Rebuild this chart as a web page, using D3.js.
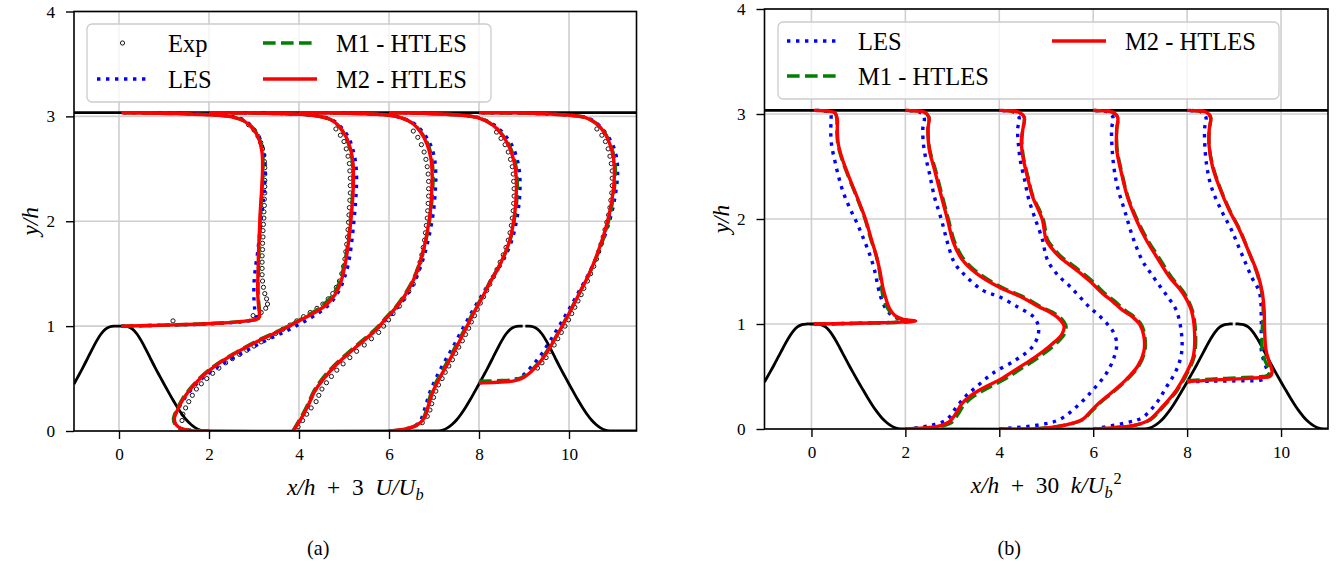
<!DOCTYPE html>
<html><head><meta charset="utf-8">
<script src="https://cdn.jsdelivr.net/npm/d3@7"></script>
<style>
body{margin:0;background:#fff;}
svg{display:block;}
</style></head>
<body>
<svg id="chart" width="1337" height="564"></svg>
<script>
// ---------- data ----------
const xTicks = [0, 2, 4, 6, 8, 10];
const yTicks = [0, 1, 2, 3, 4];
const stations = [0.05, 2, 4, 6, 8];
const topWall = 3.035;

// hill geometry (x/h, y/h); null = small gap at second crest
const hillX = [-1,-0.9,-0.8,-0.7,-0.6,-0.5,-0.4,-0.3,-0.2,-0.1,0,0.1,0.2,0.3,0.4,0.5,0.6,0.7,0.8,0.9,1.0,1.1,1.2,1.3,1.4,1.5,1.6,1.7,1.8,1.9,1.93,7.07,7.1,7.2,7.3,7.4,7.5,7.6,7.7,7.8,7.9,8.0,8.1,8.2,8.3,8.4,8.5,8.6,8.7,8.8,8.9,8.97,null,9.03,9.1,9.2,9.3,9.4,9.5,9.6,9.7,9.8,9.9,10.0,10.1,10.2,10.3,10.4,10.5,10.6,10.7,10.8,10.9,10.93,11.5];
const hillY = [0.448,0.527,0.607,0.691,0.776,0.857,0.925,0.972,0.994,1.0,1.0,1.0,0.994,0.972,0.925,0.857,0.776,0.691,0.607,0.527,0.448,0.371,0.295,0.224,0.160,0.105,0.062,0.030,0.0096,0.0005,0,0,0.0005,0.0096,0.030,0.062,0.105,0.160,0.224,0.295,0.371,0.448,0.527,0.607,0.691,0.776,0.857,0.925,0.972,0.994,1.0,1.0,null,1.0,1.0,0.994,0.972,0.925,0.857,0.776,0.691,0.607,0.527,0.448,0.371,0.295,0.224,0.160,0.105,0.062,0.030,0.0096,0.0005,0,0];

// Panel (a): x/h + 3 U/Ub  vs y/h   (one array per station)
const aM2 = [
 [[0.05,1.0],[0.7,1.006],[1.5,1.015],[2.3,1.03],[2.8,1.048],[3.05,1.065],[3.12,1.085],[3.12,1.12],[3.1,1.2],[3.08,1.35],[3.09,1.5],[3.1,1.7],[3.12,1.9],[3.14,2.1],[3.17,2.3],[3.19,2.5],[3.18,2.65],[3.12,2.77],[3.0,2.87],[2.8,2.95],[2.5,2.995],[2.0,3.015],[1.2,3.028],[0.05,3.035]],
 [[2.0,0.0],[1.6,0.004],[1.4,0.02],[1.27,0.06],[1.23,0.12],[1.3,0.2],[1.45,0.32],[1.65,0.43],[1.85,0.52],[2.2,0.64],[2.7,0.77],[3.15,0.87],[3.6,0.96],[4.0,1.05],[4.35,1.13],[4.6,1.2],[4.8,1.3],[4.93,1.42],[5.03,1.6],[5.1,1.8],[5.15,2.0],[5.19,2.2],[5.21,2.4],[5.2,2.55],[5.15,2.68],[5.05,2.8],[4.9,2.9],[4.7,2.97],[4.3,3.01],[3.5,3.027],[2.0,3.035]],
 [[3.87,0.0],[3.93,0.04],[4.05,0.12],[4.2,0.24],[4.35,0.38],[4.55,0.5],[4.8,0.62],[5.1,0.74],[5.4,0.85],[5.7,0.96],[5.95,1.08],[6.2,1.2],[6.45,1.36],[6.62,1.52],[6.75,1.7],[6.85,1.9],[6.92,2.1],[6.95,2.3],[6.96,2.45],[6.93,2.6],[6.85,2.73],[6.72,2.84],[6.5,2.94],[6.15,3.0],[5.5,3.025],[4.0,3.035]],
 [[6.0,0.0],[6.3,0.015],[6.6,0.05],[6.78,0.12],[6.88,0.25],[6.98,0.38],[7.12,0.5],[7.3,0.64],[7.5,0.8],[7.7,0.97],[7.9,1.14],[8.08,1.28],[8.25,1.42],[8.48,1.6],[8.67,1.8],[8.77,2.0],[8.82,2.2],[8.83,2.4],[8.79,2.55],[8.68,2.7],[8.52,2.82],[8.3,2.92],[7.95,2.99],[7.2,3.022],[6.0,3.035]],
 [[8.0,0.46],[8.4,0.465],[8.75,0.475],[8.95,0.5],[9.12,0.55],[9.3,0.63],[9.48,0.73],[9.65,0.85],[9.85,1.0],[10.05,1.16],[10.25,1.33],[10.45,1.5],[10.62,1.68],[10.78,1.88],[10.9,2.08],[10.98,2.28],[11.01,2.45],[10.99,2.6],[10.92,2.72],[10.78,2.85],[10.58,2.94],[10.35,2.99],[9.6,3.022],[8.0,3.035]]
];
const aM1 = [
 [[0.05,1.0],[0.7,1.006],[1.5,1.016],[2.3,1.031],[2.8,1.049],[3.06,1.066],[3.13,1.087],[3.13,1.12],[3.11,1.2],[3.09,1.35],[3.1,1.5],[3.11,1.7],[3.13,1.9],[3.15,2.1],[3.18,2.3],[3.2,2.5],[3.19,2.65],[3.13,2.77],[3.01,2.87],[2.81,2.95],[2.5,2.995],[2.0,3.015],[1.2,3.028],[0.05,3.035]],
 [[2.0,0.0],[1.6,0.005],[1.38,0.02],[1.25,0.06],[1.21,0.12],[1.28,0.2],[1.43,0.32],[1.63,0.43],[1.83,0.52],[2.18,0.64],[2.68,0.77],[3.12,0.87],[3.57,0.96],[3.97,1.05],[4.3,1.13],[4.56,1.21],[4.77,1.31],[4.91,1.43],[5.01,1.6],[5.09,1.8],[5.14,2.0],[5.18,2.2],[5.2,2.4],[5.19,2.55],[5.14,2.68],[5.04,2.8],[4.9,2.9],[4.7,2.97],[4.3,3.01],[3.5,3.027],[2.0,3.035]],
 [[3.87,0.0],[3.92,0.04],[4.03,0.12],[4.18,0.24],[4.33,0.38],[4.52,0.5],[4.77,0.62],[5.07,0.74],[5.37,0.85],[5.67,0.96],[5.93,1.08],[6.18,1.2],[6.43,1.36],[6.61,1.52],[6.75,1.7],[6.86,1.9],[6.93,2.1],[6.97,2.3],[6.98,2.45],[6.95,2.6],[6.87,2.73],[6.73,2.84],[6.5,2.94],[6.15,3.0],[5.5,3.025],[4.0,3.035]],
 [[6.0,0.0],[6.3,0.015],[6.58,0.05],[6.76,0.12],[6.86,0.25],[6.95,0.38],[7.09,0.5],[7.27,0.64],[7.47,0.8],[7.68,0.97],[7.88,1.14],[8.07,1.28],[8.24,1.42],[8.48,1.6],[8.68,1.8],[8.78,2.0],[8.84,2.2],[8.85,2.4],[8.81,2.55],[8.7,2.7],[8.53,2.82],[8.3,2.92],[7.95,2.99],[7.2,3.022],[6.0,3.035]],
 [[8.0,0.475],[8.4,0.48],[8.75,0.488],[8.95,0.51],[9.1,0.555],[9.28,0.63],[9.46,0.73],[9.64,0.85],[9.84,1.0],[10.04,1.16],[10.25,1.33],[10.45,1.5],[10.63,1.68],[10.8,1.88],[10.92,2.08],[11.0,2.28],[11.03,2.45],[11.01,2.6],[10.93,2.72],[10.79,2.85],[10.58,2.94],[10.35,2.99],[9.6,3.022],[8.0,3.035]]
];
const aLES = [
 [[0.05,1.0],[0.7,1.006],[1.5,1.014],[2.3,1.028],[2.8,1.045],[3.0,1.065],[3.05,1.09],[3.02,1.15],[3.0,1.25],[3.0,1.4],[3.03,1.55],[3.08,1.7],[3.13,1.9],[3.18,2.1],[3.23,2.3],[3.25,2.5],[3.22,2.65],[3.14,2.78],[3.0,2.88],[2.8,2.96],[2.5,3.0],[2.0,3.018],[1.2,3.03],[0.05,3.035]],
 [[2.0,0.0],[1.6,0.005],[1.38,0.02],[1.26,0.06],[1.22,0.12],[1.3,0.2],[1.47,0.32],[1.7,0.44],[1.93,0.53],[2.3,0.64],[2.8,0.76],[3.25,0.86],[3.7,0.95],[4.1,1.04],[4.45,1.13],[4.7,1.22],[4.88,1.33],[5.0,1.45],[5.1,1.6],[5.17,1.8],[5.22,2.0],[5.26,2.2],[5.28,2.4],[5.26,2.55],[5.2,2.68],[5.1,2.8],[4.93,2.9],[4.72,2.97],[4.3,3.01],[3.5,3.027],[2.0,3.035]],
 [[3.87,0.0],[3.93,0.04],[4.05,0.12],[4.2,0.24],[4.35,0.38],[4.55,0.5],[4.8,0.62],[5.1,0.74],[5.4,0.85],[5.7,0.96],[5.97,1.08],[6.23,1.2],[6.48,1.36],[6.66,1.52],[6.8,1.7],[6.91,1.9],[6.99,2.1],[7.03,2.3],[7.04,2.45],[7.01,2.6],[6.92,2.73],[6.77,2.84],[6.53,2.94],[6.15,3.0],[5.5,3.025],[4.0,3.035]],
 [[6.0,0.0],[6.3,0.012],[6.55,0.04],[6.7,0.1],[6.8,0.22],[6.9,0.36],[7.04,0.5],[7.22,0.65],[7.42,0.8],[7.63,0.97],[7.85,1.14],[8.07,1.3],[8.28,1.45],[8.53,1.62],[8.73,1.82],[8.84,2.02],[8.9,2.22],[8.91,2.4],[8.87,2.55],[8.76,2.7],[8.58,2.82],[8.33,2.92],[7.97,2.99],[7.2,3.022],[6.0,3.035]],
 [[8.0,0.46],[8.4,0.47],[8.7,0.48],[8.9,0.51],[9.05,0.56],[9.22,0.64],[9.4,0.74],[9.58,0.86],[9.78,1.0],[10.0,1.16],[10.22,1.33],[10.44,1.5],[10.63,1.68],[10.81,1.88],[10.95,2.08],[11.04,2.28],[11.08,2.45],[11.06,2.6],[10.97,2.73],[10.8,2.85],[10.6,2.94],[10.38,2.99],[9.6,3.022],[8.0,3.035]]
];
const aExp = [
 [[1.2,1.05],[2.98,1.1],[3.16,1.13],[3.26,1.17],[3.3,1.21],[3.28,1.26],[3.24,1.31],[3.21,1.37],[3.19,1.43],[3.18,1.49],[3.18,1.55],[3.18,1.61],[3.18,1.67],[3.19,1.73],[3.19,1.79],[3.2,1.85],[3.2,1.91],[3.21,1.97],[3.22,2.03],[3.22,2.09],[3.23,2.15],[3.23,2.21],[3.24,2.27],[3.24,2.33],[3.24,2.39],[3.24,2.45],[3.24,2.51],[3.23,2.57],[3.22,2.63],[3.19,2.69],[3.15,2.75],[3.09,2.81],[3.0,2.87],[2.88,2.92]],
 [[1.4,0.1],[1.42,0.16],[1.48,0.22],[1.55,0.28],[1.63,0.34],[1.72,0.4],[1.83,0.45],[1.95,0.5],[2.08,0.55],[2.22,0.6],[2.37,0.65],[2.52,0.69],[2.68,0.73],[2.84,0.77],[3.0,0.81],[3.16,0.85],[3.32,0.89],[3.48,0.93],[3.64,0.97],[3.8,1.01],[3.95,1.05],[4.1,1.09],[4.25,1.13],[4.4,1.17],[4.53,1.21],[4.65,1.26],[4.75,1.31],[4.83,1.37],[4.9,1.43],[4.95,1.5],[4.99,1.57],[5.02,1.64],[5.04,1.71],[5.06,1.78],[5.08,1.85],[5.09,1.92],[5.1,1.99],[5.11,2.06],[5.12,2.13],[5.13,2.2],[5.14,2.27],[5.14,2.34],[5.14,2.41],[5.13,2.48],[5.12,2.55],[5.09,2.62],[5.05,2.69],[5.0,2.76],[4.92,2.82],[4.82,2.88]],
 [[3.98,0.04],[4.08,0.1],[4.17,0.16],[4.27,0.22],[4.38,0.28],[4.44,0.34],[4.51,0.4],[4.61,0.46],[4.72,0.52],[4.84,0.58],[4.98,0.64],[5.13,0.7],[5.28,0.76],[5.45,0.82],[5.61,0.88],[5.77,0.94],[5.88,1.0],[5.99,1.06],[6.09,1.12],[6.23,1.19],[6.33,1.26],[6.44,1.33],[6.54,1.4],[6.6,1.47],[6.65,1.54],[6.69,1.61],[6.73,1.68],[6.76,1.75],[6.79,1.82],[6.81,1.89],[6.83,1.96],[6.85,2.03],[6.86,2.1],[6.87,2.17],[6.88,2.24],[6.88,2.31],[6.88,2.38],[6.87,2.45],[6.85,2.52],[6.82,2.59],[6.78,2.66],[6.72,2.73],[6.64,2.8],[6.54,2.86]],
 [[6.74,0.08],[6.85,0.14],[6.91,0.2],[6.95,0.26],[6.99,0.32],[7.04,0.38],[7.1,0.44],[7.18,0.5],[7.25,0.56],[7.33,0.62],[7.41,0.68],[7.48,0.74],[7.55,0.8],[7.63,0.86],[7.7,0.92],[7.77,0.98],[7.83,1.04],[7.9,1.1],[7.96,1.16],[8.03,1.22],[8.1,1.28],[8.17,1.34],[8.24,1.4],[8.32,1.47],[8.4,1.54],[8.47,1.61],[8.54,1.68],[8.6,1.75],[8.65,1.82],[8.69,1.89],[8.72,1.96],[8.74,2.03],[8.76,2.1],[8.77,2.17],[8.78,2.24],[8.78,2.31],[8.77,2.38],[8.76,2.45],[8.74,2.52],[8.7,2.59],[8.65,2.66],[8.58,2.73],[8.49,2.79],[8.39,2.85]],
 [[9.3,0.6],[9.4,0.65],[9.49,0.7],[9.58,0.76],[9.67,0.82],[9.75,0.88],[9.83,0.94],[9.91,1.0],[9.99,1.06],[10.06,1.12],[10.13,1.18],[10.2,1.24],[10.27,1.3],[10.33,1.36],[10.41,1.43],[10.48,1.5],[10.55,1.57],[10.61,1.64],[10.66,1.71],[10.71,1.78],[10.76,1.85],[10.8,1.92],[10.84,1.99],[10.88,2.06],[10.91,2.13],[10.93,2.2],[10.95,2.27],[10.96,2.34],[10.96,2.41],[10.96,2.48],[10.94,2.55],[10.91,2.62],[10.87,2.69],[10.81,2.76],[10.73,2.82],[10.62,2.88]]
];

// Panel (b): x/h + 30 k/Ub^2  vs y/h
const bM2 = [
 [[0.05,1.0],[0.8,1.005],[1.5,1.012],[1.9,1.018],[2.22,1.028],[1.95,1.045],[1.78,1.08],[1.66,1.15],[1.58,1.25],[1.52,1.35],[1.46,1.5],[1.38,1.65],[1.28,1.8],[1.15,2.0],[0.98,2.2],[0.8,2.4],[0.65,2.58],[0.57,2.72],[0.55,2.85],[0.55,2.95],[0.5,3.01],[0.3,3.03],[0.05,3.035]],
 [[2.0,0.0],[2.4,0.01],[2.73,0.03],[2.94,0.07],[3.08,0.15],[3.2,0.24],[3.4,0.32],[3.7,0.4],[4.05,0.48],[4.4,0.58],[4.75,0.68],[5.1,0.8],[5.33,0.9],[5.38,0.98],[5.25,1.06],[5.05,1.12],[4.86,1.16],[4.5,1.25],[4.0,1.35],[3.52,1.48],[3.2,1.62],[3.02,1.78],[2.9,1.99],[2.77,2.21],[2.62,2.47],[2.51,2.66],[2.48,2.85],[2.5,2.97],[2.4,3.02],[2.2,3.03],[2.0,3.035]],
 [[4.0,0.0],[4.8,0.003],[5.43,0.04],[5.77,0.09],[5.95,0.17],[6.13,0.25],[6.4,0.35],[6.7,0.47],[6.95,0.6],[7.08,0.74],[7.08,0.88],[7.0,0.99],[6.83,1.07],[6.63,1.13],[6.4,1.22],[6.2,1.29],[5.95,1.4],[5.71,1.49],[5.45,1.58],[5.28,1.64],[5.12,1.72],[5.0,1.8],[4.92,1.99],[4.82,2.1],[4.71,2.21],[4.6,2.4],[4.5,2.6],[4.47,2.75],[4.5,2.85],[4.53,2.97],[4.4,3.02],[4.2,3.03],[4.0,3.035]],
 [[6.0,0.0],[6.5,0.015],[6.92,0.04],[7.2,0.09],[7.47,0.21],[7.77,0.37],[7.98,0.53],[8.13,0.69],[8.16,0.91],[8.09,1.13],[7.9,1.3],[7.62,1.45],[7.35,1.64],[7.13,1.8],[6.92,1.99],[6.73,2.21],[6.6,2.44],[6.5,2.66],[6.5,2.85],[6.52,2.97],[6.4,3.02],[6.2,3.03],[6.0,3.035]],
 [[8.0,0.45],[8.5,0.465],[9.2,0.48],[9.6,0.49],[9.76,0.5],[9.81,0.54],[9.74,0.65],[9.68,0.75],[9.65,0.94],[9.64,1.13],[9.6,1.3],[9.5,1.48],[9.32,1.68],[9.11,1.9],[8.9,2.08],[8.69,2.3],[8.54,2.5],[8.47,2.69],[8.47,2.85],[8.5,2.97],[8.4,3.02],[8.2,3.03],[8.0,3.035]]
];
const bM1 = [
 [[0.05,1.0],[0.8,1.005],[1.5,1.012],[1.9,1.018],[2.2,1.028],[1.93,1.045],[1.75,1.08],[1.62,1.15],[1.53,1.25],[1.49,1.35],[1.45,1.5],[1.38,1.65],[1.27,1.8],[1.14,2.0],[0.97,2.2],[0.79,2.4],[0.64,2.58],[0.56,2.72],[0.54,2.85],[0.54,2.95],[0.5,3.01],[0.3,3.03],[0.05,3.035]],
 [[2.0,0.0],[2.4,0.01],[2.75,0.025],[2.98,0.06],[3.12,0.14],[3.25,0.23],[3.45,0.31],[3.76,0.39],[4.1,0.47],[4.45,0.57],[4.8,0.67],[5.15,0.79],[5.38,0.9],[5.42,0.98],[5.3,1.06],[5.1,1.12],[4.9,1.16],[4.55,1.25],[4.05,1.35],[3.57,1.48],[3.24,1.62],[3.05,1.78],[2.92,1.99],[2.79,2.21],[2.64,2.47],[2.52,2.66],[2.48,2.85],[2.5,2.97],[2.4,3.02],[2.2,3.03],[2.0,3.035]],
 [[4.0,0.0],[4.8,0.003],[5.43,0.04],[5.78,0.09],[5.97,0.17],[6.15,0.25],[6.42,0.35],[6.72,0.47],[6.97,0.6],[7.1,0.74],[7.1,0.88],[7.03,0.99],[6.87,1.07],[6.68,1.13],[6.45,1.22],[6.25,1.29],[6.0,1.4],[5.76,1.49],[5.5,1.58],[5.32,1.64],[5.16,1.72],[5.03,1.8],[4.94,1.99],[4.84,2.1],[4.72,2.21],[4.61,2.4],[4.51,2.6],[4.48,2.75],[4.5,2.85],[4.53,2.97],[4.4,3.02],[4.2,3.03],[4.0,3.035]],
 [[6.0,0.0],[6.5,0.015],[6.93,0.04],[7.22,0.09],[7.49,0.21],[7.79,0.37],[8.0,0.53],[8.15,0.69],[8.18,0.91],[8.11,1.13],[7.93,1.3],[7.66,1.45],[7.39,1.64],[7.16,1.8],[6.94,1.99],[6.74,2.21],[6.61,2.44],[6.51,2.66],[6.5,2.85],[6.52,2.97],[6.4,3.02],[6.2,3.03],[6.0,3.035]],
 [[8.0,0.46],[8.5,0.475],[9.2,0.49],[9.6,0.5],[9.72,0.51],[9.76,0.55],[9.66,0.65],[9.6,0.75],[9.6,0.94],[9.62,1.13],[9.59,1.3],[9.49,1.48],[9.32,1.68],[9.12,1.9],[8.91,2.08],[8.7,2.3],[8.55,2.5],[8.47,2.69],[8.47,2.85],[8.5,2.97],[8.4,3.02],[8.2,3.03],[8.0,3.035]]
];
const bLES = [
 [[0.05,1.0],[0.8,1.005],[1.5,1.012],[1.9,1.018],[2.1,1.028],[1.9,1.045],[1.72,1.08],[1.58,1.15],[1.48,1.25],[1.42,1.35],[1.35,1.5],[1.25,1.65],[1.12,1.8],[0.98,1.95],[0.82,2.1],[0.68,2.25],[0.58,2.4],[0.5,2.55],[0.43,2.7],[0.41,2.85],[0.42,2.95],[0.4,3.01],[0.25,3.03],[0.05,3.035]],
 [[2.0,0.0],[2.5,0.03],[2.88,0.09],[3.09,0.21],[3.3,0.32],[3.51,0.4],[3.86,0.53],[4.36,0.66],[4.7,0.78],[4.83,0.9],[4.82,1.0],[4.7,1.08],[4.4,1.16],[4.0,1.26],[3.65,1.32],[3.3,1.45],[3.05,1.58],[2.9,1.77],[2.77,1.99],[2.62,2.21],[2.51,2.44],[2.4,2.66],[2.37,2.85],[2.4,2.97],[2.3,3.02],[2.15,3.03],[2.0,3.035]],
 [[4.0,0.0],[4.86,0.04],[5.28,0.09],[5.64,0.21],[5.99,0.37],[6.28,0.53],[6.45,0.69],[6.5,0.82],[6.42,0.93],[6.28,1.01],[6.1,1.09],[5.92,1.16],[5.71,1.26],[5.5,1.36],[5.28,1.45],[5.1,1.55],[5.0,1.64],[4.92,1.8],[4.75,2.02],[4.62,2.2],[4.54,2.37],[4.45,2.55],[4.41,2.7],[4.39,2.85],[4.42,2.97],[4.3,3.02],[4.15,3.03],[4.0,3.035]],
 [[6.0,0.0],[6.71,0.06],[7.05,0.11],[7.35,0.25],[7.56,0.4],[7.77,0.56],[7.88,0.72],[7.88,0.91],[7.77,1.13],[7.6,1.25],[7.42,1.36],[7.2,1.5],[7.05,1.6],[6.84,1.83],[6.67,2.08],[6.52,2.3],[6.43,2.53],[6.39,2.85],[6.42,2.97],[6.3,3.02],[6.15,3.03],[6.0,3.035]],
 [[8.0,0.45],[8.5,0.455],[9.2,0.46],[9.6,0.47],[9.74,0.53],[9.68,0.59],[9.58,0.75],[9.58,1.01],[9.54,1.3],[9.37,1.45],[9.15,1.68],[8.94,1.9],[8.73,2.08],[8.52,2.3],[8.41,2.53],[8.37,2.85],[8.4,2.97],[8.3,3.02],[8.15,3.03],[8.0,3.035]]
];

// ---------- font selection (sized to the reference's text widths) ----------
function fontExists(name) {
  const c = document.createElement("canvas").getContext("2d");
  const s = "abcdefghijklmnopqrstuvwxyzMWHT0123456789";
  let diff = false;
  ["monospace", "sans-serif"].forEach(fb => {
    c.font = "40px " + fb; const w1 = c.measureText(s).width;
    c.font = `40px "${name}", ${fb}`; const w2 = c.measureText(s).width;
    if (Math.abs(w1 - w2) > 0.5) diff = true;
  });
  return diff;
}
const FONT = ["Liberation Serif", "Tinos", "Times New Roman", "DejaVu Serif", "Noto Serif", "Liberation Sans"]
  .find(fontExists) || "serif";
const FF = `"${FONT}", serif`;
function textWidth(str, size, style) {
  const c = document.createElement("canvas").getContext("2d");
  c.font = `${style || ""} ${size}px ${FF}`;
  return c.measureText(str).width;
}
// reference: legend entry "M1 - HTLES" is ~131 px wide
const K = 131 / textWidth("M1 - HTLES", 100);
const FS_LEG = 100 * K;
const FS_TICK = FS_LEG * 0.7;
const FS_LAB = FS_LEG * 0.95;
const FS_SUB = FS_LAB * 0.7;
const FS_TAG = FS_LEG * 0.82;

// ---------- drawing ----------
const svg = d3.select("#chart");
const COL = {les:"#0000ff", m1:"#008000", m2:"#ff0000"};
const LW = 3.4;

function panel(cfg) {
  const x = d3.scaleLinear().domain(cfg.xDomain).range([cfg.left, cfg.right]);
  const y = d3.scaleLinear().domain([0, 4]).range([cfg.bottom, cfg.top]);
  const g = svg.append("g").attr("font-family", FF);
  const clipId = "clip" + cfg.id;
  svg.append("defs").append("clipPath").attr("id", clipId)
    .append("rect").attr("x", cfg.left).attr("y", cfg.top)
    .attr("width", cfg.right - cfg.left).attr("height", cfg.bottom - cfg.top);

  // grid
  const grid = g.append("g").attr("stroke", "#cfcfcf").attr("stroke-width", 1.6);
  xTicks.forEach(t => grid.append("line").attr("x1", x(t)).attr("x2", x(t)).attr("y1", cfg.top).attr("y2", cfg.bottom));
  yTicks.forEach(t => grid.append("line").attr("x1", cfg.left).attr("x2", cfg.right).attr("y1", y(t)).attr("y2", y(t)));

  const plot = g.append("g").attr("clip-path", `url(#${clipId})`);
  // hill and top wall
  const hill = hillX.map((v, i) => v === null ? null : [v, hillY[i]]);
  plot.append("path").datum(hill)
    .attr("d", d3.line().defined(d => d !== null).x(d => x(d[0])).y(d => y(d[1])).curve(d3.curveCatmullRom.alpha(0.5)))
    .attr("fill", "none").attr("stroke", "#000").attr("stroke-width", 2.8);
  plot.append("line").attr("x1", cfg.left).attr("x2", cfg.right)
    .attr("y1", y(topWall)).attr("y2", y(topWall)).attr("stroke", "#000").attr("stroke-width", 2.8);

  const line = d3.line().x(d => x(d[0])).y(d => y(d[1])).curve(d3.curveCatmullRom.alpha(0.5));
  if (cfg.exp) {
    cfg.exp.forEach(prof => {
      plot.append("g").selectAll("circle").data(prof).join("circle")
        .attr("cx", d => x(d[0])).attr("cy", d => y(d[1])).attr("r", 2.1)
        .attr("fill", "none").attr("stroke", "#000").attr("stroke-width", 0.9);
    });
  }
  cfg.les.forEach(p => plot.append("path").datum(p).attr("d", line).attr("fill", "none")
    .attr("stroke", COL.les).attr("stroke-width", LW).attr("stroke-dasharray", "3.4,5.6"));
  cfg.m1.forEach(p => plot.append("path").datum(p).attr("d", line).attr("fill", "none")
    .attr("stroke", COL.m1).attr("stroke-width", LW).attr("stroke-dasharray", "12.6,5.4"));
  cfg.m2.forEach(p => plot.append("path").datum(p).attr("d", line).attr("fill", "none")
    .attr("stroke", COL.m2).attr("stroke-width", LW));

  // frame
  g.append("rect").attr("x", cfg.left).attr("y", cfg.top)
    .attr("width", cfg.right - cfg.left).attr("height", cfg.bottom - cfg.top)
    .attr("fill", "none").attr("stroke", "#000").attr("stroke-width", 1.6);

  // axes
  const xa = g.append("g").attr("transform", `translate(0,${cfg.bottom})`)
    .call(d3.axisBottom(x).tickValues(xTicks).tickSize(8).tickPadding(9).tickFormat(d3.format("d")));
  const ya = g.append("g").attr("transform", `translate(${cfg.left},0)`)
    .call(d3.axisLeft(y).tickValues(yTicks).tickSize(8).tickPadding(11).tickFormat(d3.format("d")));
  [xa, ya].forEach(a => {
    a.attr("font-family", FF).attr("font-size", FS_TICK);
    a.select(".domain").remove();
    a.selectAll("line").attr("stroke", "#000").attr("stroke-width", 1.4);
  });

  // axis labels
  const cx = (cfg.left + cfg.right) / 2;
  const xl = g.append("text").attr("x", cx).attr("y", cfg.bottom + 64).attr("text-anchor", "middle").attr("font-size", FS_LAB);
  cfg.xlabel(xl);
  const yl = g.append("text").attr("transform", `translate(${cfg.left - 36},${(cfg.top + cfg.bottom) / 2}) rotate(-90)`)
    .attr("text-anchor", "middle").attr("font-size", FS_LAB);
  yl.append("tspan").attr("font-style", "italic").text("y/h");

  g.append("text").attr("x", cx - 37).attr("y", 555).attr("text-anchor", "middle").attr("font-size", FS_TAG).text(cfg.tag);

  // legend
  const L = cfg.legend;
  const lg = g.append("g");
  lg.append("rect").attr("x", L.x).attr("y", L.y).attr("width", L.w).attr("height", L.h).attr("rx", 5)
    .attr("fill", "#fff").attr("fill-opacity", 0.8).attr("stroke", "#cccccc").attr("stroke-width", 1.3);
  L.items.forEach(it => {
    if (it.type === "exp") {
      lg.append("circle").attr("cx", (it.hx0 + it.hx1) / 2).attr("cy", it.y).attr("r", 2.1)
        .attr("fill", "none").attr("stroke", "#000").attr("stroke-width", 0.9);
    } else {
      const ln = lg.append("line").attr("x1", it.hx0).attr("x2", it.hx1).attr("y1", it.y).attr("y2", it.y)
        .attr("stroke", COL[it.type]).attr("stroke-width", LW);
      if (it.type === "les") ln.attr("stroke-dasharray", "3.4,5.6");
      if (it.type === "m1") ln.attr("stroke-dasharray", "12.6,5.4");
    }
    lg.append("text").attr("x", it.tx).attr("y", it.y).attr("dy", "0.38em").attr("font-size", FS_LEG).text(it.label);
  });
}

function subLabel(t, pre, mid, post, sup) {
  t.append("tspan").attr("font-style", "italic").text(pre);
  t.append("tspan").text(mid);
  t.append("tspan").attr("font-style", "italic").text(post);
  t.append("tspan").attr("font-style", "italic").attr("font-size", FS_SUB).attr("dy", 5).text("b");
  if (sup) t.append("tspan").attr("font-size", FS_SUB).attr("dy", -14).attr("dx", 1).text(sup);
}

panel({
  id: "a", left: 74, right: 636.5, top: 11.5, bottom: 431, xDomain: [-1, 11.5],
  exp: aExp, les: aLES, m1: aM1, m2: aM2, tag: "(a)",
  xlabel: t => subLabel(t, "x/h", "\u2002+\u20023\u2002", "U/U", null),
  legend: {x: 87, y: 24, w: 404, h: 78, items: [
    {type: "exp", label: "Exp", y: 43, hx0: 97, hx1: 148, tx: 168},
    {type: "les", label: "LES", y: 79, hx0: 97, hx1: 148, tx: 168},
    {type: "m1", label: "M1 - HTLES", y: 43, hx0: 263, hx1: 317, tx: 336},
    {type: "m2", label: "M2 - HTLES", y: 79, hx0: 263, hx1: 317, tx: 336}
  ]}
});

panel({
  id: "b", left: 764.5, right: 1328, top: 9, bottom: 429, xDomain: [-1, 11],
  exp: null, les: bLES, m1: bM1, m2: bM2, tag: "(b)",
  xlabel: t => subLabel(t, "x/h", "\u2002+\u200230\u2002", "k/U", "2"),
  legend: {x: 778, y: 22, w: 501, h: 77, items: [
    {type: "les", label: "LES", y: 41, hx0: 787, hx1: 838, tx: 858},
    {type: "m1", label: "M1 - HTLES", y: 76, hx0: 787, hx1: 838, tx: 858},
    {type: "m2", label: "M2 - HTLES", y: 41, hx0: 1052, hx1: 1106, tx: 1125}
  ]}
});
</script>
</body></html>
